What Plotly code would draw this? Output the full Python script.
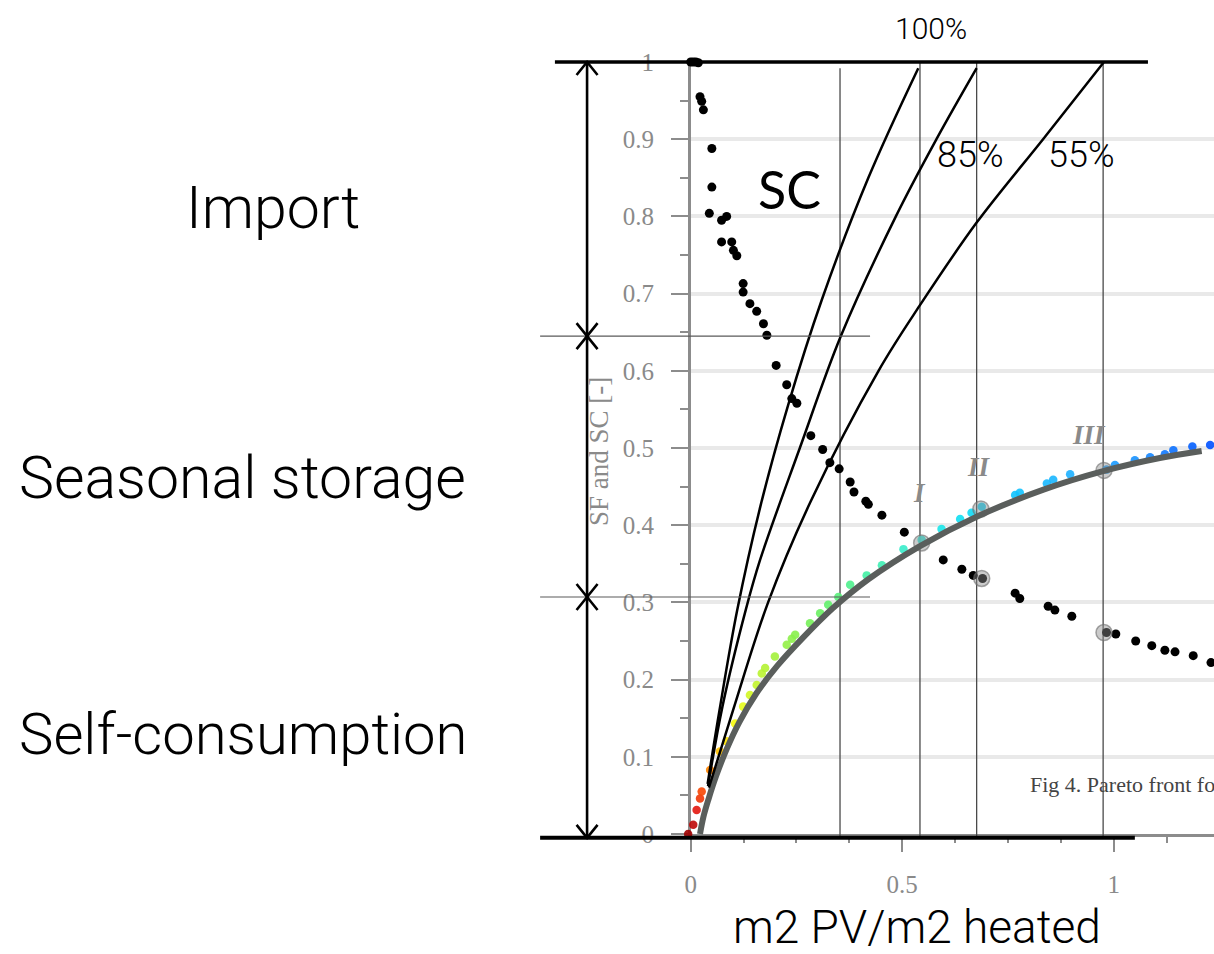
import plotly.graph_objects as go

# ------------------------------------------------------------------ data
# SF (solar fraction) Pareto points, coloured from red to blue
SF_X = [-0.006, 0.006, 0.014, 0.022, 0.026, 0.046, 0.069, 0.085, 0.105, 0.124, 0.140, 0.156,
        0.168, 0.176, 0.199, 0.227, 0.239, 0.247, 0.282, 0.306, 0.325, 0.349, 0.377, 0.416,
        0.452, 0.503, 0.546, 0.593, 0.637, 0.664, 0.688, 0.767, 0.778, 0.842, 0.857, 0.897,
        0.983, 1.003, 1.050, 1.086, 1.121, 1.141, 1.186, 1.228]
SF_Y = [0.000, 0.012, 0.031, 0.046, 0.055, 0.083, 0.107, 0.120, 0.143, 0.165, 0.180, 0.193,
        0.208, 0.215, 0.230, 0.245, 0.253, 0.258, 0.273, 0.286, 0.297, 0.307, 0.323, 0.335,
        0.348, 0.369, 0.381, 0.395, 0.408, 0.416, 0.424, 0.439, 0.442, 0.454, 0.459, 0.466,
        0.472, 0.478, 0.484, 0.488, 0.492, 0.497, 0.502, 0.504]

# SC (self consumption) points, black
SC_X = [0.000, 0.006, 0.012, 0.018, 0.026, 0.022, 0.030, 0.050, 0.050, 0.044, 0.073, 0.085,
        0.073, 0.097, 0.101, 0.109, 0.124, 0.124, 0.140, 0.156, 0.172, 0.180, 0.202, 0.227,
        0.239, 0.251, 0.284, 0.312, 0.329, 0.351, 0.377, 0.386, 0.414, 0.420, 0.452, 0.505,
        0.597, 0.641, 0.668, 0.690, 0.767, 0.778, 0.845, 0.861, 0.901, 0.983, 1.005, 1.052,
        1.090, 1.121, 1.145, 1.188, 1.230]
SC_Y = [1.000, 1.000, 1.000, 0.999, 0.949, 0.955, 0.938, 0.888, 0.838, 0.804, 0.795, 0.800,
        0.767, 0.767, 0.756, 0.749, 0.713, 0.702, 0.687, 0.677, 0.661, 0.646, 0.607, 0.582,
        0.564, 0.558, 0.516, 0.498, 0.481, 0.473, 0.456, 0.443, 0.431, 0.427, 0.413, 0.391,
        0.355, 0.343, 0.335, 0.331, 0.312, 0.305, 0.295, 0.290, 0.282, 0.261, 0.259, 0.250,
        0.244, 0.238, 0.236, 0.231, 0.222]

# fitted SF curve (thick grey)
FIT_X = [0.022, 0.030, 0.042, 0.060, 0.085, 0.115, 0.155, 0.205, 0.265, 0.335, 0.420,
         0.542, 0.676, 0.834, 0.975, 1.109, 1.208]
FIT_Y = [0.000, 0.022, 0.045, 0.075, 0.110, 0.145, 0.182, 0.218, 0.254, 0.292, 0.330,
         0.373, 0.411, 0.446, 0.470, 0.487, 0.496]

# efficiency curves (100 %, 85 %, 55 %)
C100_X = [0.040, 0.068, 0.110, 0.165, 0.230, 0.310, 0.420, 0.538]
C100_Y = [0.065, 0.160, 0.290, 0.425, 0.555, 0.692, 0.850, 0.992]
C85_X = [0.041, 0.075, 0.130, 0.164, 0.258, 0.355, 0.485, 0.581, 0.676]
C85_Y = [0.062, 0.165, 0.290, 0.355, 0.500, 0.645, 0.800, 0.900, 0.992]
C55_X = [0.043, 0.100, 0.183, 0.283, 0.444, 0.542, 0.676, 0.833, 0.977]
C55_Y = [0.060, 0.160, 0.300, 0.430, 0.600, 0.685, 0.792, 0.900, 1.000]

# selected designs I, II, III and the reference line
VLINE_X = [0.353, 0.542, 0.676, 0.975]
VLINE_TOP = [0.992, 1.000, 1.000, 1.000]
SEL_LABELS = ["I", "II", "III"]
HL_X = [0.546, 0.686, 0.977, 0.688, 0.977]
HL_Y = [0.377, 0.421, 0.471, 0.331, 0.261]

# bands: Import / Seasonal storage / Self-consumption
BANDS = [1.000, 0.645, 0.307, -0.005]
BAND_LABELS = ["Import", "Seasonal storage", "Self-consumption"]
CURVE_LABELS = ["100%", "85%", "55%"]

Y_TICKS = [0, 0.1, 0.2, 0.3, 0.4, 0.5, 0.6, 0.7, 0.8, 0.9, 1]
Y_TICKTEXT = ["0", "0.1", "0.2", "0.3", "0.4", "0.5", "0.6", "0.7", "0.8", "0.9", "1"]
X_TICKS = [0, 0.5, 1]
X_TICKTEXT = ["0", "0.5", "1"]

# ------------------------------------------------------------------ geometry / style
W, H = 1214, 954
X0_PX, X_UNIT = 690.7, 423.0     # pixel of x=0, pixels per unit
Y0_PX, Y_UNIT = 834.0, 772.0     # pixel of y=0, pixels per unit

X2_RANGE = [(0 - X0_PX) / X_UNIT, (W - X0_PX) / X_UNIT]
Y2_RANGE = [(Y0_PX - H) / Y_UNIT, Y0_PX / Y_UNIT]

AX_GREY = "#8c8c8c"
SERIF = "Liberation Serif, Times New Roman, serif"
LIGHT = "Roboto"

ARROW_X = -0.245
HEAD_DX = 10.5 / X_UNIT
HEAD_DY = 13.0 / Y_UNIT
LEFT_END = -0.356
THIN_RIGHT = 0.424

SF_SCALE = [[0.0, "#a00000"], [0.01, "#e01010"], [0.025, "#ff5a00"], [0.045, "#ffa000"],
            [0.065, "#ffdc00"], [0.09, "#f4ff10"], [0.12, "#c8f428"], [0.17, "#9cf040"],
            [0.25, "#68f060"], [0.33, "#44f0a0"], [0.42, "#38ecd0"], [0.5, "#10e4f0"],
            [0.62, "#10c4ff"], [0.75, "#20acff"], [0.86, "#1890ff"], [1.0, "#0050ff"]]

fig = go.Figure()

# empty trace to instantiate the visible axes subplot
fig.add_trace(go.Scatter(x=[], y=[], xaxis="x", yaxis="y", showlegend=False))

def seg_trace(xs, ys, color, width):
    fig.add_trace(go.Scatter(x=xs, y=ys, mode="lines", xaxis="x2", yaxis="y2",
                             line=dict(color=color, width=width), hoverinfo="skip",
                             showlegend=False))

# thin vertical lines
vx, vy = [], []
for x, top in zip(VLINE_X, VLINE_TOP):
    vx += [x, x, None]
    vy += [BANDS[-1], top, None]
seg_trace(vx, vy, "#4a4a4a", 1.3)

# SC points
fig.add_trace(go.Scatter(x=SC_X, y=SC_Y, mode="markers", xaxis="x2", yaxis="y2",
                         marker=dict(color="black", size=9, line=dict(width=0)),
                         showlegend=False))
# SF points
fig.add_trace(go.Scatter(x=SF_X, y=SF_Y, mode="markers", xaxis="x2", yaxis="y2",
                         marker=dict(color=SF_X, colorscale=SF_SCALE, cmin=0, cmax=1.23,
                                     size=8.5, opacity=0.9, line=dict(width=0)),
                         showlegend=False))
# highlight circles
fig.add_trace(go.Scatter(x=HL_X, y=HL_Y, mode="markers", xaxis="x2", yaxis="y2",
                         marker=dict(color="rgba(140,140,140,0.45)", size=16,
                                     line=dict(color="rgba(110,110,110,0.6)", width=1.5)),
                         showlegend=False))
# fitted grey curve
fig.add_trace(go.Scatter(x=FIT_X, y=FIT_Y, mode="lines", xaxis="x2", yaxis="y2",
                         line=dict(color="#5a5e5c", width=6, shape="spline", smoothing=1.0),
                         showlegend=False))
# efficiency curves
for cx, cy in [(C100_X, C100_Y), (C85_X, C85_Y), (C55_X, C55_Y)]:
    fig.add_trace(go.Scatter(x=cx, y=cy, mode="lines", xaxis="x2", yaxis="y2",
                             line=dict(color="black", width=2.5, shape="spline", smoothing=1.0),
                             showlegend=False))

# thin horizontal band separators
hx, hy = [], []
for b in BANDS[1:-1]:
    hx += [LEFT_END, THIN_RIGHT, None]
    hy += [b, b, None]
seg_trace(hx, hy, "#5a5a5a", 1.2)

# thick black top / bottom lines
seg_trace([-0.321, 1.081], [BANDS[0], BANDS[0]], "black", 3.5)
seg_trace([LEFT_END, 1.050], [BANDS[-1], BANDS[-1]], "black", 4)

# double-headed arrows
ax_, ay_ = [], []
for top, bot in zip(BANDS[:-1], BANDS[1:]):
    ax_ += [ARROW_X, ARROW_X, None]
    ay_ += [top, bot, None]
    ax_ += [ARROW_X - HEAD_DX, ARROW_X, ARROW_X + HEAD_DX, None]
    ay_ += [top - HEAD_DY, top, top - HEAD_DY, None]
    ax_ += [ARROW_X - HEAD_DX, ARROW_X, ARROW_X + HEAD_DX, None]
    ay_ += [bot + HEAD_DY, bot, bot + HEAD_DY, None]
seg_trace(ax_, ay_, "black", 2.6)

# ------------------------------------------------------------------ annotations
ann = []
def txt(x, y, s, size, family=LIGHT, color="black", xanchor="center", weight=300,
        style="normal", angle=0):
    ann.append(dict(x=x, y=y, xref="x2", yref="y2", text=s, showarrow=False,
                    xanchor=xanchor, yanchor="middle", textangle=angle,
                    font=dict(family=family, size=size, color=color, weight=weight,
                              style=style)))

txt(-0.9875, 0.811, BAND_LABELS[0], 59)
txt(-1.5927, 0.462, BAND_LABELS[1], 59, xanchor="left")
txt(-1.5927, 0.1295, BAND_LABELS[2], 58, xanchor="left")
txt(0.568, 1.044, CURVE_LABELS[0], 30)
txt(0.661, 0.8795, CURVE_LABELS[1], 36)
txt(0.9227, 0.8795, CURVE_LABELS[2], 36)
txt(0.2324, 0.8355, "SC", 52, family="Lato", weight=400)
txt(0.535, -0.121, "m2 PV/m2 heated", 46)
txt(0.798, 0.0635, "Fig 4. Pareto front fo", 22, family=SERIF, color="#444444",
    xanchor="left", weight=400)
txt(-0.2156, 0.4955, "SF and SC [-]", 27, family=SERIF, color="#8a8a8a", weight=400,
    angle=-90)
for lab, lx, ly in zip(SEL_LABELS, [0.542, 0.682, 0.942], [0.442, 0.476, 0.517]):
    txt(lx, ly, lab, 27, family=SERIF, color="#8a8a8a", weight=700, style="italic")

fig.update_layout(
    width=W, height=H, autosize=False,
    margin=dict(l=0, r=0, t=0, b=0, pad=0),
    paper_bgcolor="white", plot_bgcolor="rgba(0,0,0,0)",
    showlegend=False,
    annotations=ann,
    xaxis=dict(domain=[X0_PX / W, 1], range=[0, (W - X0_PX) / X_UNIT], anchor="y",
               tickmode="array", tickvals=X_TICKS, ticktext=X_TICKTEXT,
               ticks="outside", ticklen=15, tickwidth=2, tickcolor=AX_GREY,
               showline=True, linecolor=AX_GREY, linewidth=2.5,
               showgrid=False, zeroline=False, automargin=False,
               ticklabelstandoff=11,
               tickfont=dict(family=SERIF, size=25, color="#8a8a8a"),
               minor=dict(dtick=0.125, tick0=0, ticks="outside", ticklen=6, tickwidth=2,
                          tickcolor=AX_GREY, showgrid=False)),
    yaxis=dict(domain=[(H - Y0_PX) / H, (H - (Y0_PX - Y_UNIT)) / H], range=[0, 1],
               anchor="x", tickmode="array", tickvals=Y_TICKS, ticktext=Y_TICKTEXT,
               ticks="outside", ticklen=17, tickwidth=2, tickcolor=AX_GREY,
               showline=True, linecolor=AX_GREY, linewidth=2.5,
               showgrid=True, gridcolor="#e9e9e9", gridwidth=3.5,
               zeroline=False, automargin=False, ticklabelstandoff=12,
               tickfont=dict(family=SERIF, size=25, color="#8a8a8a"),
               minor=dict(dtick=0.05, tick0=0, ticks="outside", ticklen=8, tickwidth=2,
                          tickcolor=AX_GREY, showgrid=False)),
    xaxis2=dict(domain=[0, 1], range=X2_RANGE, anchor="y2", visible=False,
                fixedrange=True),
    yaxis2=dict(domain=[0, 1], range=Y2_RANGE, anchor="x2", visible=False,
                fixedrange=True),
)

fig.write_html("out.html")
